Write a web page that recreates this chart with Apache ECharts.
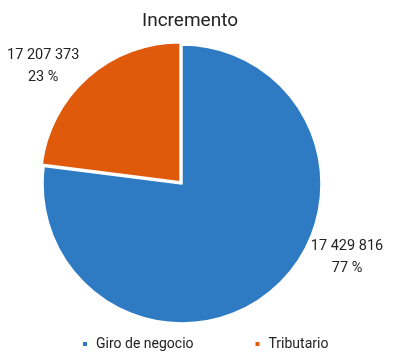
<!DOCTYPE html>
<html>
<head>
<meta charset="utf-8">
<script src="https://cdn.jsdelivr.net/npm/echarts@6/dist/echarts.min.js"></script>
<style>
  html, body { margin: 0; padding: 0; background: #fff; }
  #chart { width: 417px; height: 360px; }
</style>
</head>
<body>
<div id="chart"></div>
<script>
// datos
const categories = ['Giro de negocio', 'Tributario'];
const amounts = [17429816, 17207373];   // importes mostrados en las etiquetas
const shares = [77, 23];                // porcentaje de cada sector
const colors = ['#2E7BC4', '#E05A0C'];

// posicion de las etiquetas (centro del texto)
const labelPos = [[347, 257], [46, 74]];

function fmt(n) {
  return String(n).replace(/\B(?=(\d{3})+(?!\d))/g, ' ');
}

const myChart = echarts.init(document.getElementById('chart'));

const option = {
  animation: false,
  title: {
    text: 'Incremento',
    left: 185,
    top: 7,
    textAlign: 'center',
    textStyle: { fontFamily: 'Roboto', fontSize: 19, fontWeight: 'normal', color: '#222' }
  },
  legend: {
    data: categories,
    left: 76,
    top: 332,
    itemWidth: 6,
    itemHeight: 6,
    itemGap: 60,
    icon: 'rect',
    selectedMode: false,
    textStyle: { fontFamily: 'Roboto', fontSize: 14, color: '#222', padding: [0, 0, 0, 3] }
  },
  series: [{
    type: 'pie',
    center: [182, 184],
    radius: [0, 139],
    startAngle: 90,
    clockwise: true,
    selectedMode: 'single',
    selectedOffset: 3,
    emphasis: { disabled: true },
    itemStyle: { borderColor: '#fff', borderWidth: 1.5 },
    label: {
      show: true,
      position: 'outside',
      overflow: 'none',
      fontFamily: 'Roboto',
      fontSize: 14.5,
      lineHeight: 22,
      color: '#222',
      align: 'center',
      formatter: p => fmt(amounts[p.dataIndex]) + '\n' + shares[p.dataIndex] + ' %'
    },
    labelLine: { show: false },
    labelLayout: p => ({
      x: labelPos[p.dataIndex][0],
      y: labelPos[p.dataIndex][1],
      align: 'center',
      verticalAlign: 'middle'
    }),
    data: categories.map((name, i) => ({
      name: name,
      value: shares[i],
      selected: i === 1,
      itemStyle: { color: colors[i] }
    }))
  }]
};

myChart.setOption(option);
</script>
</body>
</html>
